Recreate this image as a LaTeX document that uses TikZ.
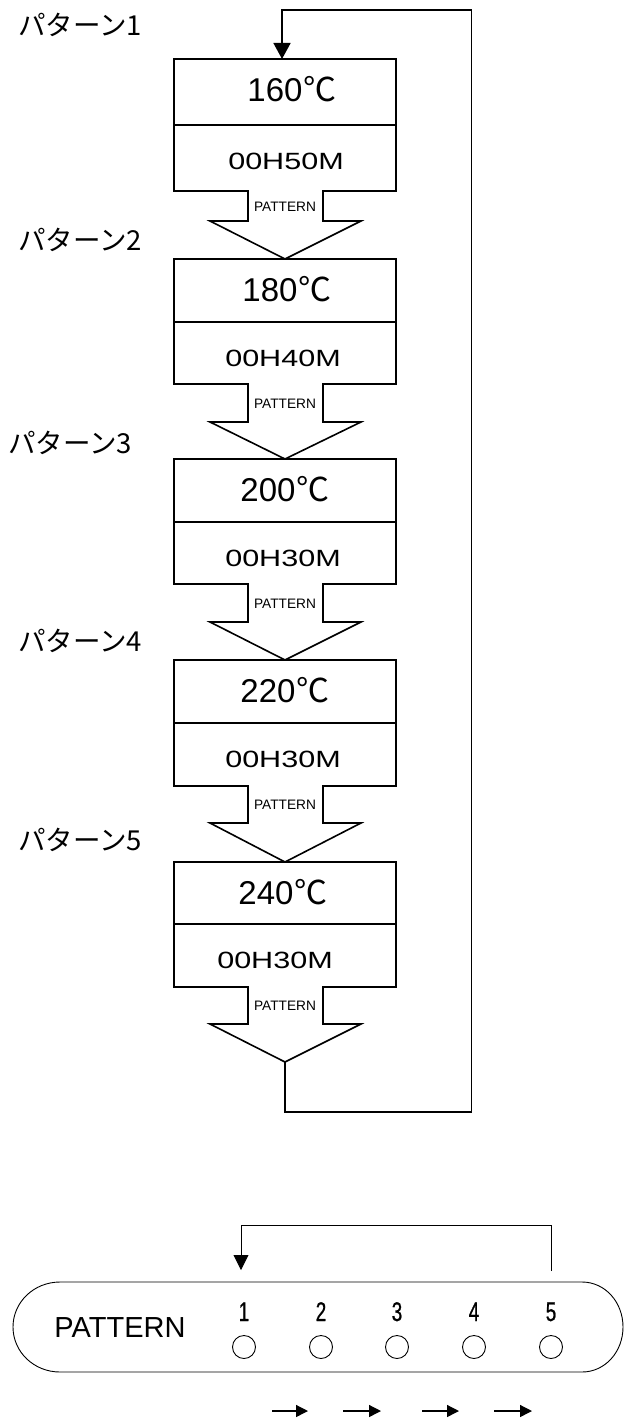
\documentclass[tikz,border=0pt]{standalone}
\usepackage{fontspec}
\setmainfont{Liberation Sans}
\newfontfamily\jp{Noto Sans CJK JP}
\newfontfamily\widefont[FakeStretch=1.3]{Liberation Sans}
\newfontfamily\narrowfont[FakeStretch=0.7,FakeBold=0.8]{Liberation Sans}
\usetikzlibrary{arrows.meta}
\begin{document}
\begin{tikzpicture}[x=1pt,y=-1pt,
  blockline/.style={line width=1.6pt, line join=miter},
  thinline/.style={line width=0.9pt},
  templabel/.style={font=\fontsize{33}{35}\selectfont, inner sep=0pt, anchor=base},
  timelabel/.style={font=\widefont\fontsize{23.5}{26}\selectfont, inner sep=0pt, anchor=base},
  patlabel/.style={font=\jp\fontsize{27.5}{30}\selectfont, inner sep=0pt, anchor=base west},
  smallpat/.style={font=\fontsize{13.7}{15}\selectfont, inner sep=0pt, anchor=base},
  bigtip/.style={-{Triangle[width=17pt,length=16pt]}},
  midtip/.style={-{Triangle[width=15pt,length=15pt]}},
  smalltip/.style={-{Triangle[width=12pt,length=12pt]}}
]
\useasboundingbox (0,0) rectangle (624,1421);

% ---- flow blocks ----
\foreach \n/\T/\D/\B/\W/\P/\tx/\temp/\hx/\time/\lx/\ly in {
  1/59/125/191/221/259/292/160/286/00H50M/18/36,
  2/259/322/384/422/459/287/180/283/00H40M/18/250,
  3/459/522/584/622/660/285/200/283/00H30M/8/453,
  4/660/723/786/823/862/285/220/283/00H30M/18/651,
  5/862/924/987/1024/1062/283/240/275/00H30M/18/850}{
  \draw[blockline] (174,\T) -- (396,\T) -- (396,\B) -- (323,\B) -- (323,\W)
     -- (361,\W) -- (285,\P) -- (210,\W) -- (248,\W) -- (248,\B) -- (174,\B) -- cycle;
  \draw[blockline] (174,\D) -- (396,\D);
  \coordinate (tip\n) at (285,\P);
  \node[templabel] (temp\n) at (\tx,\T+42.5) {\temp{\jp\hspace{1pt}℃}};
  \node[timelabel] (time\n) at (\hx,\D+44) {\time};
  \node[smallpat] (pat\n) at (285,{(\B+\W)/2+5}) {PATTERN};
  \node[patlabel] (lab\n) at (\lx,\ly) {パターン\n};
}

% ---- return loop ----
\coordinate (in1) at (282,59);
\coordinate (loopBL) at (285,1112);
\coordinate (loopBR) at (471.5,1112);
\coordinate (loopTR) at (471.5,10);
\coordinate (loopTL) at (282,10);
\draw[blockline, bigtip] (tip5) -- (loopBL) -- (loopBR) -- (loopTR) -- (loopTL) -- (in1);

% ---- bottom panel ----
\draw[thinline] (60,1282) -- (582,1282)
  .. controls (605,1282) and (623,1302) .. (623,1327)
  .. controls (623,1352) and (605,1372) .. (582,1372) -- (60,1372)
  .. controls (34,1372) and (13,1352) .. (13,1327)
  .. controls (13,1302) and (34,1282) .. (60,1282) -- cycle;
\node[font=\fontsize{29}{31}\selectfont, inner sep=0pt, anchor=base] (panel) at (120,1337) {PATTERN};

\foreach \k/\x in {1/244,2/321,3/397,4/474,5/551}{
  \node[circle, draw, thinline, minimum size=23pt, inner sep=0pt] (led\k) at (\x,1347) {};
  \node[font=\narrowfont\fontsize{27}{29}\selectfont, inner sep=0pt, anchor=base] (num\k) at (\x,1321) {\k};
}

\coordinate (brR) at (551,1271);
\coordinate (brL) at (241,1270);
\draw[thinline, midtip] (brR) -- (551,1225) -- (241,1225) -- (brL);

\foreach \a/\b in {272/308,343/381,422/459,494/532}{
  \coordinate (sa\a) at (\a,1411);
  \coordinate (sb\a) at (\b,1411);
  \draw[line width=1.3pt, smalltip] (sa\a) -- (sb\a);
}
\end{tikzpicture}
\end{document}
